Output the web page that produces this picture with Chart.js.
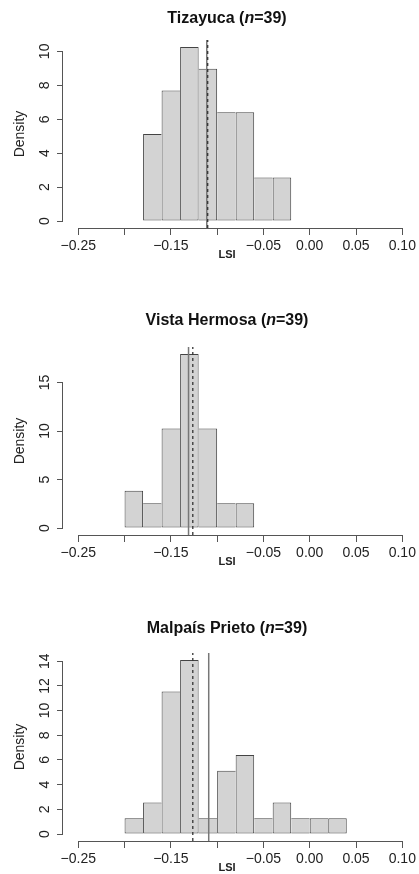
<!DOCTYPE html>
<html lang="en">
<head>
<meta charset="UTF-8">
<title>LSI histograms</title>
<script src="https://cdn.jsdelivr.net/npm/chart.js@4.4.1/dist/chart.umd.min.js"></script>
<style>
  html, body { margin: 0; padding: 0; background: #fff; width: 419px; height: 874px; overflow: hidden; }
  .panel { position: absolute; left: 0; width: 419px; height: 264px; }
</style>
</head>
<body>
<div class="panel" style="top:0px"><canvas id="tiz"></canvas></div>
<div class="panel" style="top:307px"><canvas id="vista"></canvas></div>
<div class="panel" style="top:613px"><canvas id="malp"></canvas></div>

<script>
// LSI histograms per site, density scale, bins of 0.02
const xTicks = [-0.25, -0.20, -0.15, -0.10, -0.05, 0.00, 0.05, 0.10];
// R drops the labels that would collide (-0.20, -0.10)
const xTickLabels = ["\u22120.25", "", "\u22120.15", "", "\u22120.05", "0.00", "0.05", "0.10"];

const siteNames = ["Tizayuca", "Vista Hermosa", "Malpaís Prieto"];
const sampleSizes = [39, 39, 39];

const tizBreaks = [-0.18, -0.16, -0.14, -0.12, -0.10, -0.08, -0.06, -0.04, -0.02];
const tizDensity = [5.13, 7.69, 10.26, 8.97, 6.41, 6.41, 2.56, 2.56];
const tizYTicks = [0, 2, 4, 6, 8, 10];
const tizMean = -0.1112;
const tizMedian = -0.1102;

const vistaBreaks = [-0.20, -0.18, -0.16, -0.14, -0.12, -0.10, -0.08, -0.06];
const vistaDensity = [3.85, 2.56, 10.26, 17.95, 10.26, 2.56, 2.56];
const vistaYTicks = [0, 5, 10, 15];
const vistaMean = -0.1309;
const vistaMedian = -0.1263;

const malpBreaks = [-0.20, -0.18, -0.16, -0.14, -0.12, -0.10, -0.08, -0.06, -0.04, -0.02, 0.00, 0.02, 0.04];
const malpDensity = [1.28, 2.56, 11.54, 14.10, 1.28, 5.13, 6.41, 1.28, 2.56, 1.28, 1.28, 1.28];
const malpYTicks = [0, 2, 4, 6, 8, 10, 12, 14];
const malpMean = -0.1091;
const malpMedian = -0.1263;

const FONT = '"Liberation Sans", Arial, Helvetica, sans-serif';
const INK = "#222";
const AXIS = "#555";

// R-like decorations: axis lines only between first and last tick, mixed-font title, LSI label
const rStyle = {
  id: "rStyle",
  afterDraw(chart, args, opts) {
    const { ctx, chartArea: a, scales: { x, y } } = chart;
    ctx.save();
    ctx.strokeStyle = AXIS;
    ctx.lineWidth = 1;
    ctx.beginPath();
    const yAx = Math.round(a.left) - 0.5;
    ctx.moveTo(yAx, y.getPixelForValue(opts.yTicks[0]));
    ctx.lineTo(yAx, y.getPixelForValue(opts.yTicks[opts.yTicks.length - 1]));
    const xAx = Math.round(a.bottom) + 0.5;
    ctx.moveTo(x.getPixelForValue(xTicks[0]), xAx);
    ctx.lineTo(x.getPixelForValue(xTicks[xTicks.length - 1]), xAx);
    ctx.stroke();

    // title: "Site (n=39)" with italic n
    const bold = "bold 16px " + FONT;
    const ital = "italic bold 16px " + FONT;
    const parts = [[opts.site + " (", bold], ["n", ital], ["=" + opts.n + ")", bold]];
    let total = 0;
    for (const [t, f] of parts) { ctx.font = f; total += ctx.measureText(t).width; }
    let tx = 227 - total / 2;
    ctx.fillStyle = "#111";
    ctx.textBaseline = "middle";
    ctx.textAlign = "left";
    for (const [t, f] of parts) {
      ctx.font = f;
      ctx.fillText(t, tx, opts.titleY);
      tx += ctx.measureText(t).width;
    }

    ctx.font = "bold 11px " + FONT;
    ctx.textAlign = "center";
    ctx.fillStyle = INK;
    ctx.fillText("LSI", 227, a.bottom + 27);
    ctx.restore();
  }
};

function makeHist(id, site, n, breaks, dens, yTicks, mean, median, padTop, titleY) {
  const ymax = Math.max(...dens);
  const yLo = -0.04 * ymax;
  const yHi = 1.04 * ymax;
  const last = dens.length - 1;
  const bars = dens.map((d, i) => ({ x: (breaks[i] + breaks[i + 1]) / 2, y: d }));

  new Chart(document.getElementById(id), {
    type: "bar",
    data: {
      datasets: [
        {
          type: "line",
          data: [{ x: median, y: yLo }, { x: median, y: yHi }],
          borderColor: "#333",
          borderWidth: 1.3,
          borderDash: [3, 3],
          pointRadius: 0,
          fill: false,
          order: 0,
        },
        {
          type: "line",
          data: [{ x: mean, y: yLo }, { x: mean, y: yHi }],
          borderColor: "#777",
          borderWidth: 1.5,
          pointRadius: 0,
          fill: false,
          order: 1,
        },
        {
          type: "bar",
          data: bars,
          backgroundColor: "#d3d3d3",
          borderColor: "#444",
          borderWidth: (c) => {
            const i = c.dataIndex;
            return {
              top: 1,
              bottom: 1,
              left: (i === 0 || dens[i] >= dens[i - 1]) ? 1 : 0,
              right: (i === last || dens[i] > dens[i + 1]) ? 1 : 0,
            };
          },
          borderSkipped: false,
          inflateAmount: 0,
          barPercentage: 1,
          categoryPercentage: 1,
          order: 2,
        },
      ],
    },
    options: {
      responsive: true,
      maintainAspectRatio: false,
      animation: false,
      layout: { padding: { top: padTop, left: 0, right: 2, bottom: 0 } },
      plugins: {
        legend: { display: false },
        tooltip: { enabled: false },
        rStyle: { site, n, yTicks, titleY },
      },
      scales: {
        x: {
          type: "linear",
          offset: false,
          min: -0.2665,
          max: 0.1143,
          afterBuildTicks: (s) => { s.ticks = xTicks.map(v => ({ value: v })); },
          afterFit: (s) => { s.height = 36; },
          grid: { drawOnChartArea: false, drawTicks: true, tickLength: 7, color: AXIS, offset: false },
          border: { display: false },
          ticks: {
            autoSkip: false,
            maxRotation: 0,
            padding: 3,
            color: INK,
            font: { family: FONT, size: 14 },
            callback: (v, i) => xTickLabels[i],
          },
        },
        y: {
          min: yLo,
          max: yHi,
          afterBuildTicks: (s) => { s.ticks = yTicks.map(v => ({ value: v })); },
          afterFit: (s) => { s.width = 63; },
          grid: { drawOnChartArea: false, drawTicks: true, tickLength: 6, color: AXIS },
          border: { display: false },
          title: {
            display: true,
            text: "Density",
            color: INK,
            font: { family: FONT, size: 14 },
            padding: { top: 11.6, bottom: 0 },
          },
          ticks: {
            autoSkip: false,
            minRotation: 90,
            maxRotation: 90,
            crossAlign: "center",
            padding: 4,
            color: INK,
            font: { family: FONT, size: 14 },
          },
        },
      },
    },
    plugins: [rStyle],
  });
}

makeHist("tiz", siteNames[0], sampleSizes[0], tizBreaks, tizDensity, tizYTicks, tizMean, tizMedian, 40, 19);
makeHist("vista", siteNames[1], sampleSizes[1], vistaBreaks, vistaDensity, vistaYTicks, vistaMean, vistaMedian, 40, 14);
makeHist("malp", siteNames[2], sampleSizes[2], malpBreaks, malpDensity, malpYTicks, malpMean, malpMedian, 40, 16);
</script>
</body>
</html>
